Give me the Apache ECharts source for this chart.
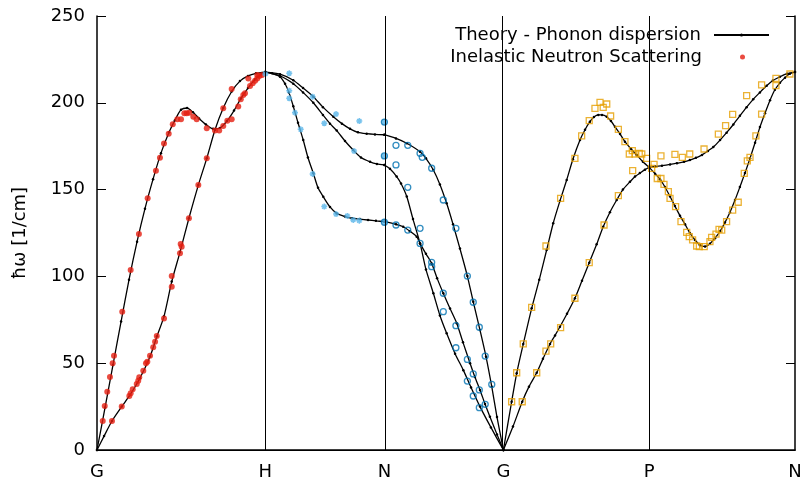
<!DOCTYPE html>
<html><head><meta charset="utf-8">
<script src="https://cdn.jsdelivr.net/npm/echarts@6/dist/echarts.min.js"></script>
<style>html,body{margin:0;padding:0;background:#fff}#c{width:800px;height:479px}</style>
</head><body><div id="c"></div>
<script>
// High-symmetry points along the path (path length in units of 2pi/a)
const kLabels = ['G', 'H', 'N', 'G', 'P', 'N'];
const kPoints = [0, 1, 1.7071, 2.4142, 3.2802, 4.1463];
const yMin = 0, yMax = 250, yStep = 50;

// Theory - phonon dispersion branches: [path position, hbar*omega (1/cm)]
const thGH_T = [[0,0],[0.048,24.5],[0.095,49],[0.143,74],[0.190,98],[0.238,120],[0.285,139],[0.333,156],[0.380,171],[0.428,183],[0.463,190],[0.499,196],[0.535,197],[0.570,194.5],[0.606,191],[0.647,187.5],[0.689,185],[0.731,185.5],[0.772,189.5],[0.814,195.5],[0.855,202.5],[0.897,208.5],[0.939,213.5],[0.974,216.5],[1,217.7]];
const thGH_L = [[0,0],[0.042,8],[0.089,16.7],[0.147,25],[0.196,31.7],[0.255,41.3],[0.315,53.8],[0.356,65.5],[0.398,77],[0.444,97],[0.493,114],[0.546,133.5],[0.602,152.6],[0.652,168],[0.701,184.5],[0.750,197],[0.800,206.5],[0.849,212.5],[0.897,215.5],[0.944,217],[1,217.7]];
const thHN_U = [[1,217.7],[1.087,216.5],[1.166,213],[1.224,208.5],[1.285,203.5],[1.342,197.5],[1.404,192],[1.455,188],[1.503,185],[1.550,183],[1.602,182.2],[1.651,181.8],[1.7071,181.6]];
const thHN_M = [[1,217.7],[1.087,215.5],[1.166,211],[1.224,206],[1.285,200],[1.342,193],[1.384,188],[1.424,184],[1.473,178],[1.522,172.8],[1.568,168.5],[1.622,166],[1.663,164.8],[1.7071,164.2]];
const thHN_L = [[1,217.7],[1.040,217],[1.087,215],[1.117,211],[1.140,206],[1.166,198],[1.194,188.5],[1.225,178.6],[1.253,168.5],[1.285,159.4],[1.313,151],[1.344,145.9],[1.384,140],[1.424,136.3],[1.473,134.5],[1.515,133.5],[1.562,133],[1.610,132.5],[1.657,132],[1.7071,131.5]];
const thNG_U = [[1.7071,181.6],[1.776,179.5],[1.840,176.7],[1.919,171.8],[1.954,168],[1.998,161.3],[2.037,153],[2.077,142.1],[2.115,130],[2.156,116],[2.200,100.2],[2.235,85.4],[2.275,69.1],[2.311,53.7],[2.345,36.5],[2.376,19],[2.4142,0]];
const thNG_M = [[1.7071,164.2],[1.740,162],[1.780,157.5],[1.806,153.5],[1.840,146],[1.877,133],[1.919,119],[1.954,104],[1.998,90.3],[2.037,77.5],[2.077,67.2],[2.127,55.5],[2.176,46],[2.222,36],[2.275,25],[2.340,13],[2.4142,0]];
const thNG_L = [[1.7071,131.5],[1.776,130],[1.819,128.6],[1.859,126],[1.899,122.9],[1.919,119],[1.954,113],[1.988,107.5],[2.020,99],[2.057,90.3],[2.097,81.5],[2.137,73],[2.174,62],[2.216,50],[2.245,42],[2.275,34.6],[2.305,26.5],[2.334,19.2],[2.376,9],[2.4142,0]];
const thGP_S = [[2.4142,0],[2.463,27.8],[2.493,44.2],[2.532,61],[2.582,81.6],[2.627,98],[2.671,115.2],[2.710,130.6],[2.750,143.5],[2.790,155.5],[2.827,167.5],[2.869,178.6],[2.899,184.5],[2.928,189.1],[2.952,191.8],[2.978,193],[3.000,193],[3.028,192],[3.053,189.5],[3.077,186.2],[3.107,182],[3.136,177.6],[3.172,173.5],[3.206,169.9],[3.243,166],[3.2802,162.8]];
const thGP_W = [[2.4142,0],[2.471,13.5],[2.526,27.8],[2.566,36.5],[2.612,44.5],[2.649,52.5],[2.691,61.1],[2.721,66],[2.750,71],[2.792,78.5],[2.839,87.4],[2.881,97.5],[2.924,107.9],[2.968,118.5],[3.007,128.6],[3.047,137],[3.087,144],[3.124,150],[3.166,154.5],[3.196,157.5],[3.225,159.5],[3.255,161.5],[3.2802,162.8]];
const thPN_F = [[3.2802,162.8],[3.315,163.3],[3.356,163.8],[3.404,164.5],[3.445,165.2],[3.487,166],[3.522,167],[3.558,168.3],[3.594,170],[3.629,172.3],[3.661,174.5],[3.701,178.5],[3.740,182.8],[3.780,187.5],[3.819,192.5],[3.859,197.5],[3.898,202],[3.938,206],[3.978,209.8],[4.015,212.8],[4.057,215],[4.099,216.8],[4.1463,217.7]];
const thPN_D = [[3.2802,162.8],[3.315,159.2],[3.344,156],[3.374,151.5],[3.404,146],[3.433,140.5],[3.463,135],[3.493,130],[3.522,125],[3.552,121],[3.582,118],[3.612,117.2],[3.641,118.8],[3.671,122],[3.701,126],[3.730,131],[3.760,137],[3.790,144],[3.819,151.5],[3.849,159.5],[3.879,168],[3.909,177],[3.938,186],[3.968,194],[3.998,201.5],[4.027,207.5],[4.057,211.5],[4.087,214.5],[4.116,216.8],[4.1463,217.7]];

// Inelastic neutron scattering measurements
const insRed = [[0.034,16.7],[0.046,25.3],[0.061,33.6],[0.077,42],[0.093,50],[0.101,54.3],[0.150,79.7],[0.200,103.7],[0.249,124.4],[0.301,145],[0.350,160.9],[0.374,168.4],[0.398,176.6],[0.426,182.2],[0.450,187.6],[0.477,190.5],[0.499,190.5],[0.519,194],[0.533,194],[0.548,194.3],[0.572,192],[0.592,190.5],[0.652,185.3],[0.701,184],[0.726,184],[0.750,186.6],[0.774,189.7],[0.800,190.5],[0.839,197.8],[0.854,202],[0.869,204.5],[0.879,205.5],[0.909,209.7],[0.925,211.2],[0.939,212.7],[0.952,214],[0.964,215.4],[0.980,216],
  [0.089,16.7],[0.147,25],[0.192,31.1],[0.200,32.7],[0.212,35],[0.236,38],[0.245,39.9],[0.251,41.9],[0.275,45.7],[0.291,50],[0.299,50.9],[0.315,54.3],[0.334,59.2],[0.345,62.4],[0.355,65.7],[0.398,75.8],[0.444,94],[0.444,100.2],[0.493,113.3],[0.497,118.7],[0.503,117.1],[0.546,133.5],[0.602,152.6],[0.652,168],[0.750,196.8],[0.800,208],[0.899,214],[0.952,216]];
const insLightBlue = [[1.000,216.6],[1.142,217],[1.142,207],[1.142,202.6],[1.176,194.3],[1.210,184.7],[1.281,203.5],[1.350,188.2],[1.420,193.5],[1.281,159],[1.350,140.2],[1.420,135.9],[1.487,134.8],[1.522,132.5],[1.558,132.1],[1.527,172.2],[1.558,189.5],[1.7071,188.9],[1.7071,169.4],[1.7071,131.2]];
const insBlue = [[1.7071,188.9],[1.7071,169.4],[1.7071,131.2],[1.776,175.5],[1.846,175.5],[1.919,170.9],[1.932,168.6],[1.988,162.3],[2.057,144],[2.132,127.7],[1.776,164.2],[1.846,151.3],[1.776,129.6],[1.846,126.7],[1.919,127.7],[1.919,119],[1.988,108.1],[1.988,105.6],[2.057,90.3],[2.057,79.7],[2.132,71.6],[2.132,58.9],[2.200,52.2],[2.200,39.7],[2.235,43.8],[2.235,31.1],[2.271,34.6],[2.271,24.4],[2.306,26.3],[2.345,37.8],[2.200,100.2],[2.235,85.1],[2.271,70.7],[2.306,54.1]];
const insOrange = [[2.463,27.8],[2.526,27.8],[2.493,44.5],[2.612,44.5],[2.532,61.1],[2.667,57],[2.695,61.1],[2.582,82.2],[2.754,70.5],[2.839,87.4],[2.924,107.9],[2.667,117.5],[2.754,145],[2.839,168],[2.879,180.9],[2.924,189.7],[2.958,196.8],[2.988,200.3],[3.007,197.4],[3.028,199.3],[3.051,192.4],[3.097,184.7],[3.136,177.6],[3.162,170.5],[3.180,172.4],[3.196,170.5],[3.221,170.9],[3.236,170.5],[3.265,168],[3.182,160.9],[3.097,146.5],[3.012,129.6],
  [3.295,162.2],[3.309,164.5],
  [3.350,169.4],[3.433,170.3],[3.477,168.6],[3.521,170.5],[3.606,173.4],[3.691,182],[3.734,186.8],[3.776,193.3],[3.859,204.1],[3.948,210.3],[4.033,214.1],[4.116,216.6],
  [3.328,156.4],[3.350,156.4],[3.368,153],[3.394,148.8],[3.404,145],[3.437,140.2],[3.469,131.5],[3.503,125.4],[3.518,122.9],[3.538,121],[3.562,117.5],[3.578,117.1],[3.607,117.1],[3.641,120],[3.651,122.5],[3.677,124.4],[3.695,127.1],[3.711,126.7],[3.740,131.5],[3.776,138.2],[3.809,142.7],[3.845,159.3],[3.863,166.6],[3.879,168.6],[3.914,180.9],[3.948,193.5],[4.033,209.9]];

const THEORY = 'Theory - Phonon dispersion';
const INS = 'Inelastic Neutron Scattering';
const FONT = 'DejaVu Sans';

const branches = [thGH_T, thGH_L, thHN_U, thHN_M, thHN_L, thNG_U, thNG_M, thNG_L, thGP_S, thGP_W, thPN_F, thPN_D];
const series = branches.map((d, i) => ({
  type: 'line', name: THEORY, data: d, smooth: 0.25,
  symbol: 'circle', symbolSize: 2.5, showSymbol: true,
  lineStyle: { color: '#000', width: 1.3 }, itemStyle: { color: '#000' },
  z: 2, silent: true,
  markLine: i === 0 ? {
    silent: true, symbol: ['none', 'none'], label: { show: false },
    lineStyle: { color: '#000', width: 1, type: 'solid' },
    data: kPoints.slice(1, -1).map(v => ({ xAxis: v }))
  } : undefined
}));
const hollow = c => ({ color: 'rgba(0,0,0,0)', borderColor: c, borderWidth: 1.3 });
series.push(
  { type: 'scatter', name: INS, data: insRed, symbol: 'circle', symbolSize: 6, itemStyle: { color: '#e51e10' }, z: 3 },
  { type: 'scatter', name: INS, data: insLightBlue, symbol: 'path://M0,5L10,5M5,0L5,10M1.5,1.5L8.5,8.5M8.5,1.5L1.5,8.5', symbolSize: 6, itemStyle: { color: 'rgba(0,0,0,0)', borderColor: '#56b4e9', borderWidth: 1.5 }, z: 3 },
  { type: 'scatter', name: INS, data: insBlue, symbol: 'circle', symbolSize: 6, itemStyle: hollow('#0072b2'), z: 3 },
  { type: 'scatter', name: INS, data: insOrange, symbol: 'rect', symbolSize: 6, itemStyle: hollow('#e69f00'), z: 3 }
);

const chart = echarts.init(document.getElementById('c'), null, { renderer: 'canvas' });
chart.setOption({
  animation: false,
  backgroundColor: '#fff',
  textStyle: { fontFamily: FONT },
  grid: { left: 97, right: 5, top: 16, bottom: 29, containLabel: false, outerBoundsMode: 'none' },
  legend: [
    { data: [THEORY], orient: 'vertical', align: 'right', right: 30, top: 26, padding: 0,
      itemWidth: 55, itemHeight: 4, selectedMode: false,
      textStyle: { fontFamily: FONT, fontSize: 18, color: '#000', padding: [0, 8, 0, 0] } },
    { data: [INS], orient: 'vertical', align: 'right', right: 55, top: 48, padding: 0,
      itemWidth: 55, itemHeight: 5, selectedMode: false,
      textStyle: { fontFamily: FONT, fontSize: 18, color: '#000', padding: [0, 8, 0, 0] } }
  ],
  xAxis: [
    { type: 'value', min: kPoints[0], max: kPoints[kPoints.length - 1],
      axisLine: { show: true, lineStyle: { color: '#000', width: 1.5 } },
      axisTick: { show: false }, splitLine: { show: false },
      axisLabel: { customValues: kPoints, showMinLabel: true, showMaxLabel: true, hideOverlap: false,
        color: '#000', fontSize: 18, fontFamily: FONT, margin: 13,
        formatter: v => { const i = kPoints.findIndex(k => Math.abs(k - v) < 1e-6); return i >= 0 ? kLabels[i] : ''; } } },
    { type: 'value', position: 'top', min: kPoints[0], max: kPoints[kPoints.length - 1],
      axisLine: { show: true, lineStyle: { color: '#000', width: 1 } },
      axisTick: { show: false }, axisLabel: { show: false }, splitLine: { show: false } }
  ],
  yAxis: [
    { type: 'value', min: yMin, max: yMax, interval: yStep,
      name: 'ħω [1/cm]', nameLocation: 'middle', nameRotate: 90, nameGap: 68,
      nameTextStyle: { fontFamily: FONT, fontSize: 18, color: '#000' },
      axisLine: { show: true, lineStyle: { color: '#000', width: 1.5 } },
      axisTick: { show: true, inside: true, length: 9, lineStyle: { color: '#000' } },
      axisLabel: { color: '#000', fontSize: 18, fontFamily: FONT, margin: 12 },
      splitLine: { show: false } },
    { type: 'value', position: 'right', min: yMin, max: yMax, interval: yStep,
      axisLine: { show: true, onZero: false, lineStyle: { color: '#000', width: 1.5 } },
      axisTick: { show: true, inside: true, length: 9, lineStyle: { color: '#000' } },
      axisLabel: { show: false }, splitLine: { show: false } }
  ],
  series: series
});
</script></body></html>
